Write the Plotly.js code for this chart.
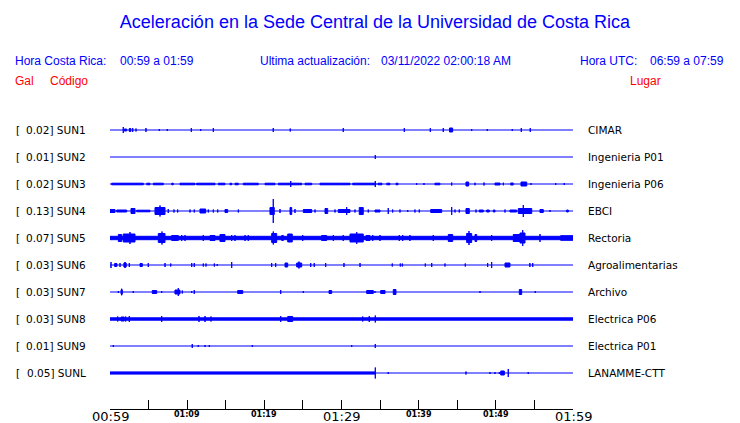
<!DOCTYPE html>
<html>
<head>
<meta charset="utf-8">
<script src="https://cdn.plot.ly/plotly-3.0.1.min.js"></script>
<style>html,body{margin:0;padding:0;background:#fff;}#chart{width:740px;height:423px;}</style>
</head>
<body>
<div id="chart"></div>
<script>
// ---- data ----
const codes = ['SUN1','SUN2','SUN3','SUN4','SUN5','SUN6','SUN7','SUN8','SUN9','SUNL'];
const galMax = [0.02,0.01,0.02,0.13,0.07,0.03,0.03,0.03,0.01,0.05];
const places = ['CIMAR','Ingenieria P01','Ingenieria P06','EBCI','Rectoria','Agroalimentarias','Archivo','Electrica P06','Electrica P01','LANAMME-CTT'];
const tickMinutes = [0,5,10,15,20,25,30,35,40,45,50,55,60];
const tickLabels = ['00:59','','01:09','','01:19','','01:29','','01:39','','01:49','','01:59'];
const windowEnd = 60.2;

// events per station: [start minute, end minute, half amplitude (px)]
const SUN1 = [[1.72,1.72,3],[1.85,2.16,1.5],[2.5,2.7,2],[2.94,2.94,2],[3.37,3.37,1.5],[4.66,4.66,2],[6.39,6.39,1],[7.42,7.42,1],[10.54,10.54,2],[11.75,11.75,1],[13.39,13.39,2],[21.16,21.16,2],[23.36,23.36,1.5],[30.23,30.23,2],[38.14,38.14,2],[41.51,41.51,2],[43.19,43.19,2],[44.0,44.4,2.5],[46.87,46.87,1],[48.89,48.89,1],[52.13,52.13,1],[53.30,53.30,2],[54.46,54.46,2]];
const SUN2 = [[34.38,34.38,2]];
const SUN3 = [[0.22,4.32,1.3],[4.76,5.18,1.3],[5.61,6.91,1.3],[8.0,8.2,1.3],[9.07,11.01,1.3],[11.23,13.61,1.3],[14.03,14.9,1.3],[15.55,15.77,1.3],[16.2,16.63,1.3],[17.27,19.22,1.3],[20.09,21.38,1.3],[21.81,24.84,1.3],[23.42,23.42,3],[25.27,26.14,1.3],[27.21,31.1,1.3],[31.45,34.47,1.3],[34.38,34.38,3],[34.73,35.25,1.3],[35.86,36.28,1.3],[37.06,37.32,1.3],[39.74,39.74,1],[40.69,40.69,1],[42.11,42.76,1.3],[44.28,44.28,1.5],[46.13,46.48,2.5],[47.3,47.3,1.3],[48.47,48.47,1.5],[49.89,50.54,1.5],[50.97,50.97,1.3],[51.92,52.26,1.5],[53.26,54.0,2.5],[54.56,54.56,1],[57.76,57.76,1],[58.87,58.87,1],[60.1,60.1,1]];
const SUN4 = [[0,0.65,2],[0.87,2.16,1.5],[2.72,3.24,3],[3.46,5.18,1.3],[5.83,7.13,4],[6.48,6.48,5.5],[7.55,7.55,2],[8.29,8.29,1.5],[8.77,8.77,1.5],[10.37,10.37,1.5],[10.92,10.92,1.5],[11.66,12.4,2.5],[12.74,12.74,1.5],[13.39,13.39,1.5],[13.96,13.96,1.5],[14.9,15.25,2],[16.63,16.63,1.5],[20.73,21.29,4],[21.16,21.16,12],[22.03,22.03,2],[23.33,23.55,4],[23.97,23.97,2],[25.05,26.14,2],[26.57,26.57,1.5],[27.86,28.21,3],[29.16,29.16,1.5],[29.58,31.1,2],[30.67,30.67,4],[31.75,31.75,1.5],[32.3,32.82,4],[33.47,33.47,1.5],[34.34,34.99,1.5],[36.06,36.06,3],[36.63,36.63,1.5],[37.58,37.58,1.5],[38.58,38.58,1],[39.52,39.52,1.5],[40.08,40.08,1.5],[41.56,42.98,2],[44.28,44.28,4],[44.71,44.71,1.5],[45.26,45.26,1.5],[46.13,46.56,3],[47.43,47.43,1.5],[47.85,48.37,1.5],[48.81,49.15,1.5],[49.67,49.89,1.5],[51.19,51.19,1.5],[51.83,52.7,1.5],[52.91,54.65,3],[53.56,53.56,6],[55.72,56.15,2],[57.02,57.02,1],[59.18,59.39,1.5]];
const SUN5 = [[0,60.2,2.2],[1.08,1.52,4],[1.72,3.24,4.5],[2.59,2.59,6],[6.26,7.13,5],[6.74,6.74,6.5],[8.0,8.85,3],[9.29,9.29,3],[9.72,9.72,3],[12.09,12.09,3],[12.96,13.61,3],[14.25,14.9,4],[15.77,15.77,3],[16.2,16.2,3],[17.5,17.5,3],[17.92,17.92,3],[20.95,21.6,5],[21.16,21.16,6.5],[22.25,22.46,3],[23.03,23.62,4.5],[24.97,24.97,3],[27.43,28.08,3],[28.94,28.94,3],[30.23,30.23,3],[31.1,32.82,4.5],[31.97,31.97,6],[33.17,33.69,3],[34.04,34.04,3],[34.99,34.99,3],[37.49,37.49,3],[37.93,37.93,3],[38.87,38.87,3],[41.89,41.89,3],[43.84,44.41,4],[46.22,46.87,5],[46.52,46.52,7],[47.3,47.52,4],[49.46,49.46,3],[52.26,53.13,4],[53.13,53.78,5.5],[53.48,53.48,8],[55.72,55.72,4],[58.4,60.2,2.8]];
const SUN6 = [[0.13,0.13,3],[0.6,0.9,2],[1.3,1.3,2],[1.8,2.1,2.5],[1.94,1.94,3],[2.5,2.5,2],[3.89,4.19,2],[4.96,4.96,2],[7.13,7.13,2],[7.87,7.87,1.5],[10.59,10.59,2],[10.92,10.92,2],[12.09,12.09,1.5],[12.44,12.44,1.5],[13.52,13.52,1.5],[13.9,13.9,1],[15.77,15.77,3],[20.95,20.95,2],[21.47,21.47,2],[22.68,23.03,2.5],[24.19,24.84,2.5],[24.49,24.49,3.5],[26.01,26.01,2],[26.47,26.47,2],[27.95,27.95,2],[30.32,30.32,2],[32.4,32.4,2],[36.58,36.58,1.5],[37.62,37.62,1.5],[37.88,37.88,1.5],[40.86,40.86,1.5],[41.69,41.69,2],[43.41,43.41,1.5],[46.04,46.04,1.5],[48.94,48.94,2],[49.46,49.46,3],[51.19,51.83,2.5],[54.41,54.41,2],[54.78,54.78,2]];
const SUN7 = [[1.08,1.08,1],[1.43,1.59,2.7],[1.51,1.51,3.3],[3.02,3.02,1],[5.48,6.05,2],[6.7,6.7,1],[8.42,9.07,2.5],[8.85,8.85,4],[9.37,9.37,1.5],[10.59,10.59,1],[10.92,10.92,2],[16.55,17.2,2],[22.12,22.12,2],[25.05,25.05,1],[28.38,28.73,2],[33.26,34.12,2],[34.34,34.34,1],[35.08,35.64,2],[36.71,37.06,3],[47.95,47.95,1],[53.04,53.35,3],[55.11,55.11,1]];
const SUN8 = [[0,60.2,1.7],[1.0,1.0,2.5],[1.43,1.85,2.5],[2.03,2.03,2.5],[2.5,2.5,3],[6.7,6.7,3],[11.53,11.53,3],[12.31,12.31,3],[13.09,13.09,2.5],[22.12,22.12,3],[23.03,23.68,3],[32.75,32.75,2.5],[33.6,33.6,3],[34.38,34.38,3.5]];
const SUN9 = [[0.43,0.43,1],[10.66,10.66,2],[11.44,11.44,1],[12.31,12.31,1],[12.87,12.87,1],[18.44,18.44,1],[31.32,31.32,1],[34.38,34.38,2]];
const SUNL = [[0,34.38,1.6],[34.38,34.38,5.5],[36.06,36.06,1],[46.13,46.13,1.5],[49.24,49.24,1],[49.89,49.89,1],[50.45,50.45,1],[50.63,51.1,2.5],[51.61,51.61,4],[54.2,54.2,1]];
const stationEvents = [SUN1,SUN2,SUN3,SUN4,SUN5,SUN6,SUN7,SUN8,SUN9,SUNL];

// ---- drawing ----
const BLUE = '#0000ff';
const ROW_PX = 27;      // pixels per row (amplitudes are in px)
const OUTLINE = 0.5;    // half outline width, compensated on filled boxes
const traces = [];
stationEvents.forEach((ev, i) => {
  traces.push({x:[0, windowEnd], y:[i, i], mode:'lines', line:{color:BLUE, width:1.2},
               hoverinfo:'skip', cliponaxis:false, showlegend:false});
  const xs = [], ys = [];
  ev.forEach(([t0, t1, a]) => {
    const h = (t1 > t0 ? Math.max(a - OUTLINE, 0.3) : a) / ROW_PX;
    const lo = i - h, hi = i + h;
    xs.push(t0, t1, t1, t0, t0, null);
    ys.push(lo, lo, hi, hi, lo, null);
  });
  traces.push({x:xs, y:ys, mode:'lines', fill:'toself', fillcolor:BLUE,
               line:{color:BLUE, width:1}, hoverinfo:'skip', cliponaxis:false, showlegend:false});
});

const L = 110, R = 573, TOP = 116, BOT = 409;
const pxX = px => (px - L) / (R - L);
const pxY = py => (BOT - py) / (BOT - TOP);

const hdrFont = {family:'Liberation Sans, Arial, sans-serif', size:12, color:BLUE};
const redFont = {family:'Liberation Sans, Arial, sans-serif', size:12, color:'#ff0000'};
const lblFont = {family:'DejaVu Sans, sans-serif', size:10.5, color:'#000'};
const bigTick = {family:'DejaVu Sans, sans-serif', size:13, color:'#000'};
const smallTick = {family:'DejaVu Sans, sans-serif', size:8, color:'#000'};
const ann = (text, px, py, font, anchor) => ({text, x:pxX(px), y:pxY(py), xref:'paper', yref:'paper',
  xanchor:anchor||'left', yanchor:'middle', showarrow:false, font, borderpad:0, borderwidth:0});

const annotations = [
  ann('Hora Costa Rica:', 15, 61, hdrFont),
  ann('00:59 a 01:59', 120, 61, hdrFont),
  ann('Ultima actualización:', 260, 61, hdrFont),
  ann('03/11/2022 02:00:18 AM', 381, 61, hdrFont),
  ann('Hora UTC:', 580, 61, hdrFont),
  ann('06:59 a 07:59', 650, 61, hdrFont),
  ann('Gal', 15, 81, redFont),
  ann('Código', 50, 81, redFont),
  ann('Lugar', 630, 81, redFont)
];
// time labels under the axis, at the tick values
tickMinutes.forEach((m, k) => {
  if (!tickLabels[k]) return;
  const big = m % 30 === 0;
  annotations.push({text: big ? tickLabels[k] : '<b>' + tickLabels[k] + '</b>', x:m, xref:'x',
    y:pxY(big ? 416 : 414), yref:'paper', xanchor:'center', yanchor:'middle',
    showarrow:false, font: big ? bigTick : smallTick, borderpad:0});
});
codes.forEach((c, i) => {
  annotations.push({text:'[', x:pxX(15), y:i, xref:'paper', yref:'y', xanchor:'left', yanchor:'middle',
    showarrow:false, font:lblFont, borderpad:0});
  annotations.push({text:galMax[i].toFixed(2) + '] ' + c, x:pxX(87), y:i, xref:'paper', yref:'y',
    xanchor:'right', yanchor:'middle', showarrow:false, font:lblFont, borderpad:0});
  annotations.push({text:places[i], x:pxX(587), y:i, xref:'paper', yref:'y', xanchor:'left', yanchor:'middle',
    showarrow:false, font:lblFont, borderpad:0});
});

const layout = {
  width:740, height:423,
  margin:{l:L, r:740-R, t:TOP, b:423-BOT, pad:0},
  paper_bgcolor:'#fff', plot_bgcolor:'#fff', showlegend:false,
  title:{text:'Aceleración en la Sede Central de la Universidad de Costa Rica',
         font:{family:'Liberation Sans, Arial, sans-serif', size:18, color:BLUE},
         x:375/740, xanchor:'center', xref:'container', y:1-22/423, yanchor:'middle', yref:'container'},
  xaxis:{range:[0,60], tickmode:'array', tickvals:tickMinutes, showticklabels:false,
         ticks:'inside', ticklen:9, tickwidth:1, tickcolor:'#000',
         showline:true, linecolor:'#000', linewidth:1, showgrid:false, zeroline:false, fixedrange:true},
  yaxis:{range:[9 + (BOT-373)/ROW_PX, -(130-TOP)/ROW_PX], visible:false, fixedrange:true},
  annotations
};
Plotly.newPlot('chart', traces, layout, {staticPlot:true, displayModeBar:false});
</script>
</body>
</html>
